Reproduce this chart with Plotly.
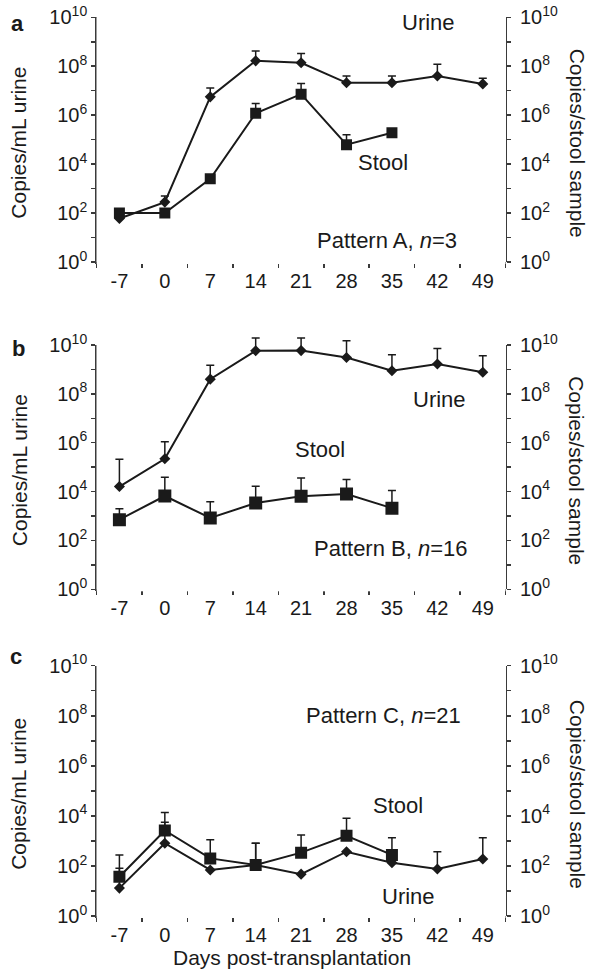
import plotly.graph_objects as go

# ---------------- data ----------------
days = [-7, 0, 7, 14, 21, 28, 35, 42, 49]
stool_days = [-7, 0, 7, 14, 21, 28, 35]
x_tick_labels = ["-7", "0", "7", "14", "21", "28", "35", "42", "49"]
y_major_vals = [1e0, 1e2, 1e4, 1e6, 1e8, 1e10]
y_major_labels = ["10<sup>0</sup>", "10<sup>2</sup>", "10<sup>4</sup>",
                  "10<sup>6</sup>", "10<sup>8</sup>", "10<sup>10</sup>"]
y_minor_vals = [1e1, 1e3, 1e5, 1e7, 1e9]

# Pattern A, n=3  (copies; "top" = upper end of error bar)
a_urine = [6.0e1, 2.8e2, 5.6e6, 1.66e8, 1.38e8, 2.1e7, 2.1e7, 4.0e7, 1.9e7]
a_urine_top = [6.0e1, 5.0e2, 1.3e7, 4.2e8, 3.3e8, 4.0e7, 4.0e7, 1.2e8, 3.2e7]
a_stool = [1.0e2, 1.0e2, 2.5e3, 1.2e6, 7.2e6, 6.2e4, 1.9e5]
a_stool_top = [1.0e2, 1.0e2, 2.5e3, 3.0e6, 1.95e7, 1.6e5, 1.9e5]

# Pattern B, n=16
b_urine = [1.6e4, 2.2e5, 4.0e8, 5.8e9, 5.9e9, 3.1e9, 8.9e8, 1.66e9, 7.6e8]
b_urine_top = [2.1e5, 1.1e6, 1.5e9, 1.95e10, 1.95e10, 1.5e10, 4.0e9, 7.2e9, 3.6e9]
b_stool = [7.1e2, 6.6e3, 8.3e2, 3.4e3, 6.5e3, 7.9e3, 2.1e3]
b_stool_top = [2.0e3, 3.9e4, 3.8e3, 1.66e4, 3.6e4, 3.1e4, 1.1e4]

# Pattern C, n=21
c_urine = [1.3e1, 8.1e2, 6.9e1, 1.1e2, 4.7e1, 3.7e2, 1.35e2, 7.6e1, 1.9e2]
c_urine_top = [8.0e1, 5.6e3, 6.9e1, 8.0e2, 4.7e1, 3.7e2, 1.35e2, 3.7e2, 1.35e3]
c_stool = [3.7e1, 2.6e3, 2.0e2, 1.1e2, 3.4e2, 1.6e3, 2.75e2]
c_stool_top = [2.75e2, 1.35e4, 1.1e3, 8.1e2, 1.74e3, 8.1e3, 1.35e3]

pattern_texts = ["Pattern A, <i>n</i>=3", "Pattern B, <i>n</i>=16", "Pattern C, <i>n</i>=21"]

# ---------------- layout helpers ----------------
OFF = 0.0                      # page body margin is reset to 0 by the post script
W, H = 591, 975
X0, X1 = 96.7, 505.5
panels_px = [(17.3, 262.0), (345.0, 589.3), (665.7, 916.0)]  # (top, bottom) in px
EXT = 15.0  # extra px of room for the hidden data axes (error caps may pass the top)

def px_x(p):
    return (p - OFF) / W

def px_y(p):
    return 1 - (p - OFF) / H

FONT = "Liberation Sans, Arial, Helvetica, sans-serif"
INK = "#1a1a1a"
AXC = "#3a3a3a"

fig = go.Figure()
series = [
    (a_urine, a_urine_top, a_stool, a_stool_top, 11),
    (b_urine, b_urine_top, b_stool, b_stool_top, 13),
    (c_urine, c_urine_top, c_stool, c_stool_top, 12),
]

layout = dict(
    width=W, height=H, margin=dict(l=0, r=0, t=0, b=0),
    paper_bgcolor="white", plot_bgcolor="white", template="none",
    font=dict(family=FONT, size=20, color=INK), showlegend=False,
)

boundaries = [d - 3.5 for d in days] + [days[-1] + 3.5]
XR = [-10.5, 52.5]

def key(ref):
    return ref[0] + "axis" + (ref[1:] if ref[1:] != "1" else "")

def name(ref):
    return ref if ref[1:] != "1" else ref[0]

for i, (top, bot) in enumerate(panels_px):
    k = i + 1
    vx, hx = f"x{k}", f"x{k+3}"
    ly, ry, hy = f"y{3*i+1}", f"y{3*i+2}", f"y{3*i+3}"

    dom_y = [px_y(bot), px_y(top)]
    dec = (bot - top) / 10.0
    ext = min(EXT, top - OFF)
    layout[key(vx)] = dict(
        domain=[px_x(X0), px_x(X1)], anchor=name(ly), automargin=False,
        range=XR, tickmode="array", tickvals=days, ticktext=x_tick_labels,
        ticks="", showline=True, linecolor=AXC, linewidth=1.5, showgrid=False,
        zeroline=False, tickfont=dict(size=20, color=INK), ticklabeloverflow="allow",
        minor=dict(tickmode="array", tickvals=boundaries, ticks="outside",
                   ticklen=4, tickwidth=1.5, tickcolor=AXC, showgrid=False),
    )
    yax = dict(
        domain=dom_y, type="log", range=[0, 10], tickmode="array",
        tickvals=y_major_vals, ticktext=y_major_labels, automargin=False,
        ticks="outside", ticklen=4, tickwidth=1.5, tickcolor=AXC,
        showline=True, linecolor=AXC, linewidth=1.5, showgrid=False, zeroline=False,
        tickfont=dict(size=20, color=INK), anchor=name(vx), ticklabeloverflow="allow",
        minor=dict(tickmode="array", tickvals=y_minor_vals, ticks="outside",
                   ticklen=4, tickwidth=1.5, tickcolor=AXC, showgrid=False),
    )
    layout[key(ly)] = dict(yax, side="left")
    layout[key(ry)] = dict(yax, side="right", ticklabelstandoff=5)
    # hidden data axes with a little extra room above the plot
    layout[key(hx)] = dict(domain=[px_x(X0), px_x(X1)], range=XR, visible=False,
                           anchor=name(hy), automargin=False)
    layout[key(hy)] = dict(domain=[px_y(bot + 2), px_y(top - ext)], type="log",
                           range=[0 - 2 / dec, 10 + ext / dec], visible=False,
                           anchor=name(hx), automargin=False)

    # empty traces so the visible axes are drawn
    for yref in (ly, ry):
        fig.add_trace(go.Scatter(x=[None], y=[None], xaxis=name(vx), yaxis=name(yref),
                                 mode="markers", hoverinfo="skip", showlegend=False))

    u, ut, s, st, sq = series[i]
    u_plus = [t - v for v, t in zip(u, ut)]
    s_plus = [t - v for v, t in zip(s, st)]
    fig.add_trace(go.Scatter(
        x=days, y=u, xaxis=name(hx), yaxis=name(hy), mode="lines+markers",
        line=dict(color=INK, width=2),
        marker=dict(symbol="diamond", size=8.5, color=INK),
        error_y=dict(type="data", symmetric=False, array=u_plus,
                     arrayminus=[0] * len(u), color=INK, thickness=1.5, width=4),
        showlegend=False))
    fig.add_trace(go.Scatter(
        x=stool_days, y=s, xaxis=name(hx), yaxis=name(hy), mode="lines+markers",
        line=dict(color=INK, width=2),
        marker=dict(symbol="square", size=sq, color=INK),
        error_y=dict(type="data", symmetric=False, array=s_plus,
                     arrayminus=[0] * len(s), color=INK, thickness=1.5, width=4),
        showlegend=False))

fig.update_layout(**layout)

ann = []
def add_text(text, x, y, size=22, angle=0, bold=False):
    ann.append(dict(text=(f"<b>{text}</b>" if bold else text), x=px_x(x), y=px_y(y),
                    xref="paper", yref="paper", showarrow=False, textangle=angle,
                    xanchor="center", yanchor="middle",
                    font=dict(family=FONT, size=size, color=INK)))

add_text("a", 17, 23, size=22, bold=True)
add_text("b", 18, 348, size=22, bold=True)
add_text("c", 16, 656, size=22, bold=True)

for (top, bot) in panels_px:
    mid = (top + bot) / 2 + 3
    add_text("Copies/mL urine", 19, mid, size=21, angle=-90)
    add_text("Copies/stool sample", 577, mid, size=21, angle=90)
add_text("Days post-transplantation", 292, 957, size=21)

add_text("Urine", 428, 22)
add_text("Stool", 383, 163)
add_text(pattern_texts[0], 387, 240)

add_text("Urine", 439, 399)
add_text("Stool", 320, 449)
add_text(pattern_texts[1], 391, 548)

add_text(pattern_texts[2], 383, 715)
add_text("Stool", 398, 805)
add_text("Urine", 408, 896)

fig.update_layout(annotations=ann)
fig.write_html(
    "out.html",
    config={"displayModeBar": False, "staticPlot": True},
    post_script="document.body.style.margin='0px';document.body.style.padding='0px';",
)
